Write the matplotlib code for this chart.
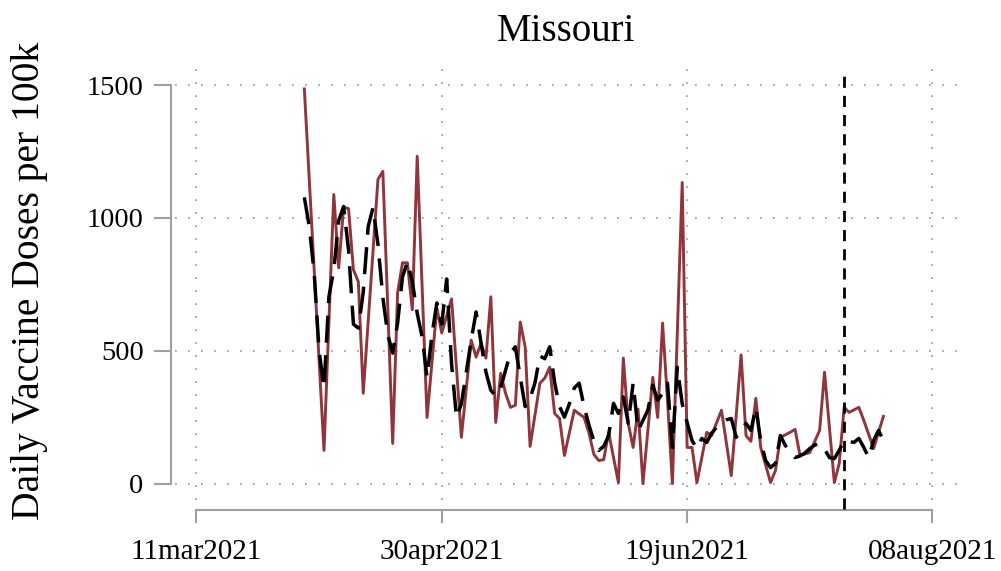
import numpy as np
import pandas as pd
import matplotlib
matplotlib.use("Agg")
import matplotlib.pyplot as plt
import matplotlib.dates as mdates

plt.rcParams['font.family'] = ['Liberation Serif', 'DejaVu Serif']

# daily doses per 100k (red line)
red_dates = ['2021-04-02', '2021-04-06', '2021-04-08', '2021-04-09', '2021-04-10',
             '2021-04-11', '2021-04-12', '2021-04-13', '2021-04-14', '2021-04-17',
             '2021-04-18', '2021-04-20', '2021-04-21', '2021-04-22', '2021-04-23',
             '2021-04-24', '2021-04-25', '2021-04-27', '2021-04-29', '2021-04-30',
             '2021-05-02', '2021-05-04', '2021-05-06', '2021-05-07', '2021-05-08',
             '2021-05-09', '2021-05-10', '2021-05-11', '2021-05-12', '2021-05-13',
             '2021-05-14', '2021-05-15', '2021-05-16', '2021-05-17', '2021-05-18',
             '2021-05-20', '2021-05-21', '2021-05-22', '2021-05-23', '2021-05-24',
             '2021-05-25', '2021-05-27', '2021-05-29', '2021-05-30', '2021-05-31',
             '2021-06-01', '2021-06-02', '2021-06-03', '2021-06-05', '2021-06-06',
             '2021-06-07', '2021-06-08', '2021-06-09', '2021-06-10', '2021-06-12',
             '2021-06-13', '2021-06-14', '2021-06-15', '2021-06-16', '2021-06-18',
             '2021-06-19', '2021-06-20', '2021-06-21', '2021-06-23', '2021-06-24',
             '2021-06-26', '2021-06-28', '2021-06-30', '2021-07-01', '2021-07-02',
             '2021-07-03', '2021-07-04', '2021-07-06', '2021-07-07', '2021-07-08',
             '2021-07-10', '2021-07-11', '2021-07-12', '2021-07-14', '2021-07-16',
             '2021-07-17', '2021-07-19', '2021-07-20', '2021-07-21', '2021-07-22',
             '2021-07-24', '2021-07-25', '2021-07-27', '2021-07-29']
red_vals = [1485, 125, 1088, 812, 1040,
            1035, 805, 760, 340, 1145,
            1175, 151, 718, 831, 831,
            654, 1232, 249, 661, 567,
            695, 174, 540, 476, 529,
            472, 703, 230, 415, 340,
            287, 295, 608, 514, 140,
            378, 397, 438, 264, 245,
            106, 276, 249, 190, 110,
            87, 90, 193, 4, 472,
            227, 136, 280, 0, 400,
            249, 604, 314, 0, 1133,
            136, 136, 4, 193, 181,
            276, 30, 484, 181, 159,
            321, 136, 4, 49, 174,
            193, 204, 106, 117, 200,
            419, 4, 76, 287, 268,
            287, 238, 132, 253]

# comparison series (black dashed), one value per day
black_start = '2021-04-02'
black_vals = [1077, 967, 793, 500, 359, 703, 805, 990, 1043, 880,
              600, 585, 720, 967, 1039, 900, 700, 560, 491, 604,
              778, 835, 760, 640, 552, 400, 560, 680, 600, 770,
              450, 249, 300, 420, 540, 646, 530, 420, 351, 330,
              360, 427, 491, 515, 400, 290, 320, 380, 480, 470,
              515, 380, 290, 250, 300, 360, 378, 290, 220, 160,
              125, 140, 180, 302, 264, 326, 227, 378, 200, 238,
              276, 370, 314, 340, 378, 136, 438, 300, 230, 162,
              132, 170, 155, 190, 212, 227, 240, 245, 174, 200,
              227, 200, 287, 160, 87, 60, 76, 181, 144, 120,
              98, 104, 115, 132, 145, 151, 130, 98, 94, 125,
              162, 158, 155, 170, 136, 98, 162, 200, 162]

xline_date = '2021-07-21'
xtick_dates = ['2021-03-11', '2021-04-30', '2021-06-19', '2021-08-08']
xtick_labels = ['11mar2021', '30apr2021', '19jun2021', '08aug2021']
ytick_vals = [0, 500, 1000, 1500]

W, H = 1001, 571
fig = plt.figure(figsize=(W / 100, H / 100), dpi=100)
ax = fig.add_axes([175 / W, 1 - 500 / H, 783 / W, 435 / H])

rd = mdates.date2num(pd.to_datetime(red_dates))
bd = mdates.date2num(pd.date_range(black_start, periods=len(black_vals), freq='D'))
xt = mdates.date2num(pd.to_datetime(xtick_dates))

ax.plot(rd, red_vals, color='#90353b', lw=2.1, zorder=3)
ax.plot(bd, black_vals, color='black', lw=2.5, linestyle=(0, (7.8, 3.6)), zorder=4)

xl = mdates.date2num(pd.Timestamp(xline_date))
ax.axvline(xl, ymin=-9 / 435, ymax=(500 - 69) / 435, color='black', lw=2,
           linestyle=(0, (4, 2.9)), clip_on=False, zorder=5)

ax.set_xlim(xt[0] - 4.36, xt[0] + 155.2)
ax.set_ylim(-61.7, 1575.3)
ax.set_xticks(xt)
ax.set_xticklabels(xtick_labels)
ax.set_yticks(ytick_vals)

gray = '#a0a0a0'
for s in ['top', 'right']:
    ax.spines[s].set_visible(False)
ax.spines['left'].set_position(('outward', 2.6))
ax.spines['left'].set_bounds(0, 1500)
ax.spines['bottom'].set_position(('outward', 7.2))
ax.spines['bottom'].set_bounds(xt[0], xt[-1])
for s in ['left', 'bottom']:
    ax.spines[s].set_color(gray)
    ax.spines[s].set_linewidth(1.5)

ax.tick_params(axis='y', length=12, width=1.5, color=gray, pad=8, labelsize=20.5)
ax.tick_params(axis='x', length=9.5, width=1.5, color=gray, pad=11.5, labelsize=21)
ax.grid(True, color='#a4a4a4', lw=1.3, linestyle=(0, (1, 6.2)))
ax.set_axisbelow(True)

fig.text(566 / W, 1 - 41 / H, 'Missouri', ha='center', va='baseline', fontsize=28)
fig.text(30 / W, 1 - 281 / H, 'Daily Vaccine Doses per 100k', rotation=90,
         ha='center', va='center', fontsize=28.5)

fig.savefig('out.png', dpi=100)
